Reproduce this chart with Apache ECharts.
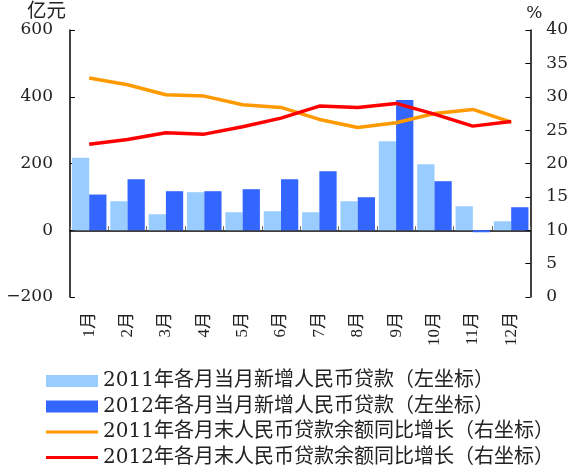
<!DOCTYPE html>
<html><head><meta charset="utf-8">
<script src="https://cdn.jsdelivr.net/npm/echarts@6/dist/echarts.min.js"></script>
<style>html,body{margin:0;padding:0;background:#fff}#c{width:571px;height:470px}</style>
</head><body><div id="c"></div>
<script>
const months = ['1月','2月','3月','4月','5月','6月','7月','8月','9月','10月','11月','12月'];
const loans2011 = [217, 87, 48, 114, 54, 57, 54, 87, 267, 198, 72, 27];
const loans2012 = [107, 153, 117, 117, 123, 153, 177, 99, 390, 147, -6, 69];
const growth2011 = [32.8, 31.8, 30.3, 30.1, 28.8, 28.4, 26.6, 25.4, 26.1, 27.5, 28.1, 26.2];
const growth2012 = [22.9, 23.6, 24.6, 24.4, 25.5, 26.8, 28.6, 28.4, 29.0, 27.4, 25.6, 26.3];
const names = ['2011年各月当月新增人民币贷款（左坐标）','2012年各月当月新增人民币贷款（左坐标）','2011年各月末人民币贷款余额同比增长（右坐标）','2012年各月末人民币贷款余额同比增长（右坐标）'];

const FF = '"DejaVu Serif","Noto Sans CJK SC",serif';
const FX = '"Liberation Serif","Noto Sans CJK SC",serif';
const lineIcon = 'path://M0 0L0.01 0Z M0 4.5H52V7.5H0Z M0 12L0.01 12Z';
const chart = echarts.init(document.getElementById('c'));
chart.setOption({
  animation: false,
  textStyle: {fontFamily: FF, color: '#222'},
  grid: {left: 70, right: 39, top: 30, bottom: 173},
  legend: {
    orient: 'vertical', left: 46, top: 371, height: 110, width: 525, padding: 0,
    itemWidth: 52, itemHeight: 12, itemGap: 5.5,
    textStyle: {fontFamily: FF, fontSize: 20, lineHeight: 20, color: '#222'},
    data: [
      {name: names[0], icon: 'rect'},
      {name: names[1], icon: 'rect'},
      {name: names[2], icon: lineIcon},
      {name: names[3], icon: lineIcon}
    ]
  },
  xAxis: [
    {type: 'category', data: months, position: 'bottom', axisLine: {show: false, onZero: false},
     axisTick: {show: false},
     axisLabel: {rotate: 90, margin: 15, fontSize: 17, color: '#222', fontFamily: FX}},
    {type: 'category', data: months, position: 'top',
     axisLine: {show: true, onZero: true, onZeroAxisIndex: 0, lineStyle: {color: '#000', width: 1.5}},
     axisTick: {show: true, inside: false, length: 4, lineStyle: {color: '#666'}},
     axisLabel: {show: false}}
  ],
  yAxis: [
    {type: 'value', min: -200, max: 600, interval: 200, name: '亿元', nameGap: 6,
     nameTextStyle: {fontSize: 19.5, color: '#222', align: 'right', padding: [0, 4, 0, 0]},
     axisLine: {show: true, lineStyle: {color: '#000', width: 1.5}},
     axisTick: {show: true, inside: true, length: 5, lineStyle: {color: '#000'}},
     axisLabel: {fontSize: 17, margin: 17, color: '#222', fontFamily: FF,
                 formatter: v => String(v).replace('-', '\u2212')},
     splitLine: {show: false}},
    {type: 'value', min: 0, max: 40, interval: 5, name: '%', nameGap: 6,
     nameTextStyle: {fontSize: 17, color: '#222', align: 'left', padding: [0, 0, 0, -4]},
     axisLine: {show: true, lineStyle: {color: '#000', width: 1.5}},
     axisTick: {show: true, inside: true, length: 5, lineStyle: {color: '#000'}},
     axisLabel: {fontSize: 17, margin: 16, color: '#222', fontFamily: FF},
     splitLine: {show: false}}
  ],
  series: [
    {name: names[0], type: 'bar', data: loans2011, itemStyle: {color: '#99CCFF'}, barGap: '0%', barCategoryGap: '10%'},
    {name: names[1], type: 'bar', data: loans2012, itemStyle: {color: '#3366FF'}, barGap: '0%', barCategoryGap: '10%'},
    {name: names[2], type: 'line', yAxisIndex: 1, data: growth2011, symbol: 'none', lineStyle: {color: '#FF9900', width: 3.5}, itemStyle: {color: '#FF9900'}, z: 5},
    {name: names[3], type: 'line', yAxisIndex: 1, data: growth2012, symbol: 'none', lineStyle: {color: '#FF0000', width: 3.5}, itemStyle: {color: '#FF0000'}, z: 6}
  ]
});
</script></body></html>
